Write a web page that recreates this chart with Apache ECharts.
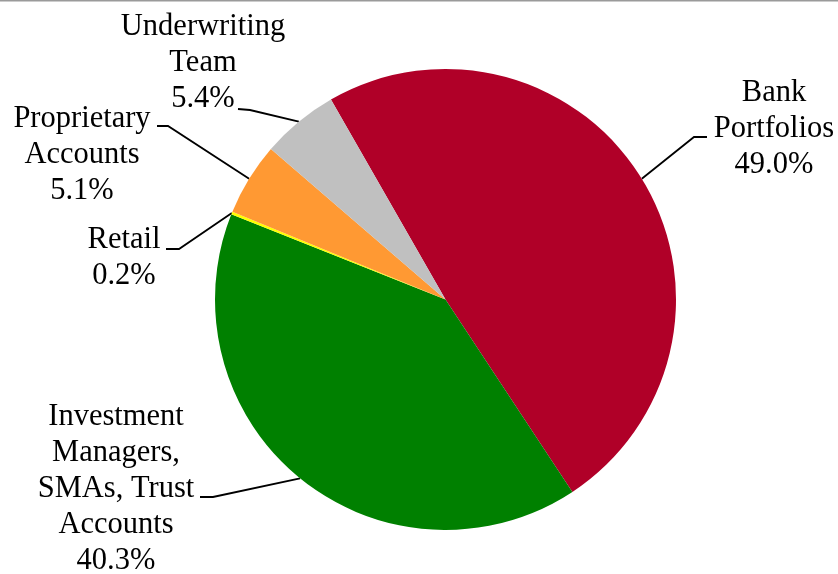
<!DOCTYPE html>
<html>
<head>
<meta charset="utf-8">
<script src="https://cdn.jsdelivr.net/npm/echarts@6/dist/echarts.min.js"></script>
<style>
  html, body { margin: 0; padding: 0; background: #ffffff; }
  #chart { width: 838px; height: 574px; }
</style>
</head>
<body>
<div id="chart"></div>
<script>
// ---- data ----
const categories = ['Bank\nPortfolios', 'Investment\nManagers,\nSMAs, Trust\nAccounts', 'Retail', 'Proprietary\nAccounts', 'Underwriting\nTeam'];
const shares = [49.0, 40.3, 0.2, 5.1, 5.4];
const sliceColors = ['#B00028', '#008000', '#FFFF00', '#FF9933', '#C0C0C0'];

// ---- label placement (label centre, leader bend, leader end) ----
const labelCentres = [[774, 129], [116, 489], [124, 258], [82, 155], [203, 63]];
const leaderBends = [[694, 137], [213, 497], [179, 249], [168, 126], [250, 110]];
const leaderEnds = [[707, 137], [200, 497], [166, 249], [157, 126], [238, 109]];

const chart = echarts.init(document.getElementById('chart'), null, { renderer: 'canvas' });

const seriesData = categories.map((c, i) => ({
  name: c,
  value: shares[i],
  itemStyle: { color: sliceColors[i] }
}));

chart.setOption({
  animation: false,
  backgroundColor: '#ffffff',
  graphic: [{
    type: 'rect',
    shape: { x: 0, y: 0, width: 838, height: 1.5 },
    style: { fill: '#9a9a9a' },
    silent: true
  }],
  series: [{
    type: 'pie',
    center: [445.5, 299.5],
    radius: 230.5,
    startAngle: 119.8,
    clockwise: true,
    avoidLabelOverlap: false,
    itemStyle: { borderWidth: 0 },
    label: {
      show: true,
      position: 'outside',
      alignTo: 'none',
      formatter: p => p.name + '\n' + p.value.toFixed(1) + '%',
      fontFamily: 'Liberation Serif',
      fontSize: 30.5,
      lineHeight: 36,
      color: '#000000'
    },
    labelLine: {
      show: true,
      smooth: false,
      length: 20,
      length2: 12,
      lineStyle: { color: '#000000', width: 1.8 }
    },
    labelLayout: function (p) {
      const i = p.dataIndex;
      const pts = p.labelLinePoints || [leaderBends[i]];
      return {
        x: labelCentres[i][0],
        y: labelCentres[i][1],
        align: 'center',
        verticalAlign: 'middle',
        labelLinePoints: [pts[0], leaderBends[i], leaderEnds[i]]
      };
    },
    emphasis: { disabled: true },
    data: seriesData
  }]
});
</script>
</body>
</html>
